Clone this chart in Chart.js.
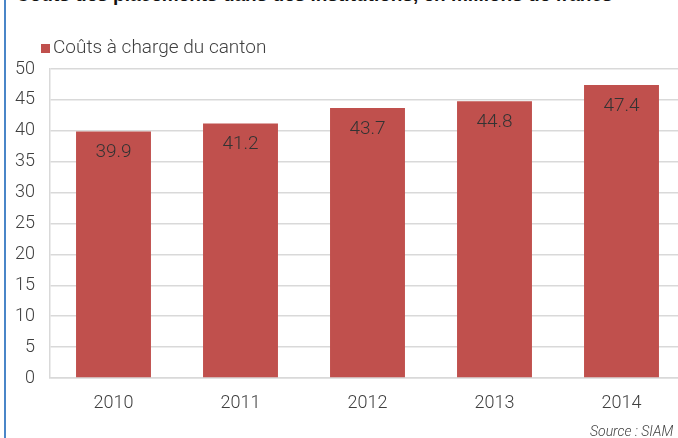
<!DOCTYPE html>
<html>
<head>
<meta charset="utf-8">
<script src="https://cdn.jsdelivr.net/npm/chart.js"></script>
<style>
  html, body { margin: 0; padding: 0; background: #fff; }
  body { width: 678px; height: 438px; overflow: hidden; position: relative; font-family: Roboto, "Liberation Sans", sans-serif; }
  #frame { position: absolute; left: 4px; top: 0; width: 2px; height: 438px; background: #4a86c8; }
  #title { position: absolute; left: 16px; top: -16px; font: bold 19px "Liberation Sans", Arial, sans-serif; color: #111; white-space: nowrap; }
  #legend { position: absolute; left: 41px; top: 35px; font-size: 19px; font-weight: 300; color: #404040; white-space: nowrap; }
  #legend span { display: inline-block; width: 9px; height: 9px; background: #c0504d; margin-right: 3px; }
  #source { position: absolute; left: 590px; top: 423px; font-size: 14px; font-style: italic; font-weight: 300; color: #404040; white-space: nowrap; }
  #wrap { position: absolute; left: 0; top: 0; width: 690px; height: 438px; }
</style>
</head>
<body>
<div id="frame"></div>
<div id="title">Coûts des placements dans des institutions, en millions de francs</div>
<div id="wrap"><canvas id="chart" width="690" height="438"></canvas></div>
<div id="legend"><span></span>Coûts à charge du canton</div>
<div id="source">Source : SIAM</div>
<script>
// data
const years = ["2010", "2011", "2012", "2013", "2014"];
const costs = [39.9, 41.2, 43.7, 44.8, 47.4];
const seriesName = "Coûts à charge du canton";

// draws the value inside the top of each bar
const barLabels = {
  id: 'barLabels',
  afterDatasetsDraw(chart) {
    const ctx = chart.ctx;
    const meta = chart.getDatasetMeta(0);
    ctx.save();
    ctx.font = '300 19px Roboto, "Liberation Sans", sans-serif';
    ctx.fillStyle = '#333333';
    ctx.textAlign = 'center';
    ctx.textBaseline = 'middle';
    meta.data.forEach((bar, i) => {
      ctx.fillText(costs[i].toFixed(1), bar.x, bar.y + 21);
    });
    ctx.restore();
  }
};

const ctx = document.getElementById('chart').getContext('2d');
new Chart(ctx, {
  type: 'bar',
  data: {
    labels: years,
    datasets: [{
      label: seriesName,
      data: costs,
      backgroundColor: '#c0504d',
      borderWidth: 0,
      categoryPercentage: 1,
      barPercentage: 0.59,
    }]
  },
  options: {
    responsive: false,
    animation: false,
    devicePixelRatio: 1,
    layout: { padding: { top: 69, left: 0, right: 5, bottom: 0 } },
    plugins: {
      legend: { display: false },
      tooltip: { enabled: false },
    },
    scales: {
      x: {
        grid: { display: false, drawTicks: false },
        border: { color: '#d9d9d9', width: 1.5 },
        ticks: { color: '#404040', font: { family: 'Roboto', size: 18, weight: 300 }, padding: 15 },
        afterFit(scale) { scale.height = 60; },
      },
      y: {
        min: 0,
        max: 50,
        ticks: { stepSize: 5, color: '#404040', font: { family: 'Roboto', size: 18, weight: 300 }, padding: 15 },
        grid: { color: '#d9d9d9', lineWidth: 1.5, drawTicks: false },
        border: { color: '#d9d9d9', width: 1.5 },
        afterFit(scale) { scale.width = 50; },
      }
    }
  },
  plugins: [barLabels]
});
</script>
</body>
</html>
